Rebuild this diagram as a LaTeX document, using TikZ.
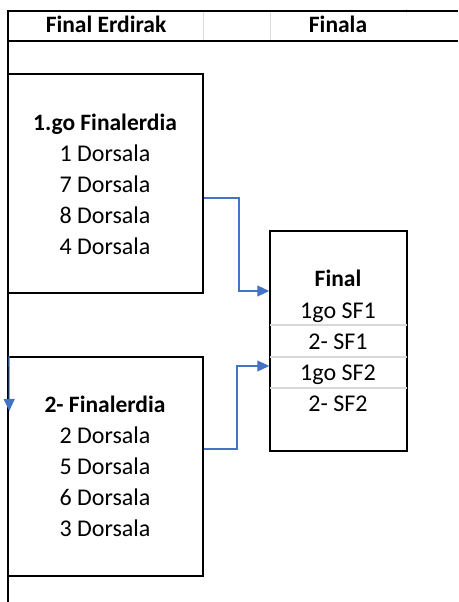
\documentclass[tikz,border=0pt]{standalone}
\usepackage{fontspec}
\setmainfont{Carlito}
\usetikzlibrary{arrows.meta}
\definecolor{arrowblue}{HTML}{4472C4}
\definecolor{gridgray}{HTML}{D9D9D9}
\tikzset{
  txt/.style={inner sep=0pt, text height=14pt, text depth=0pt, font=\fontsize{24}{31}\selectfont},
  hdr/.style={txt, font=\fontsize{23.5}{31}\selectfont\bfseries},
  boxnode/.style={draw=black, line width=1.5pt, inner sep=0pt},
  conn/.style={draw=arrowblue, line width=1.1pt, -{Triangle[length=12pt,width=11pt]}},
  sep/.style={draw=gridgray, line width=1.5pt},
  border/.style={draw=black, line width=2pt}
}
\begin{document}
\begin{tikzpicture}[x=1pt,y=-1pt]
\useasboundingbox (0,0) rectangle (458,602);
% header grid
\draw[sep, line width=1pt] (203,11) -- (203,41);
\draw[sep, line width=1pt] (270,11) -- (270,41);
\draw[sep, line width=1pt] (406,9) -- (406,13);
\draw[border] (7,11) -- (458,11);
\draw[border] (7,41) -- (458,41);
\draw[border] (8,10) -- (8,602);
\node[hdr] (h1) at (106,26) {Final Erdirak};
\node[hdr] (h2) at (338,26) {Finala};
% boxes
\node[boxnode, minimum width=195pt, minimum height=219pt] (b1) at (105.5,183.5) {};
\node[boxnode, minimum width=195pt, minimum height=219pt] (b2) at (105.5,466.5) {};
\node[boxnode, minimum width=137pt, minimum height=220pt] (fb) at (338.5,341) {};
% separators in final box
\draw[sep] ([xshift=1pt]fb.west |- 0,325) -- ([xshift=-1pt]fb.east |- 0,325);
\draw[sep] ([xshift=1pt]fb.west |- 0,357) -- ([xshift=-1pt]fb.east |- 0,357);
\draw[sep] ([xshift=1pt]fb.west |- 0,388) -- ([xshift=-1pt]fb.east |- 0,388);
% texts box 1
\node[hdr] (t1) at (105,123) {1.go Finalerdia};
\node[txt] (t1a) at (105,154) {1 Dorsala};
\node[txt] (t1b) at (105,185) {7 Dorsala};
\node[txt] (t1c) at (105,216) {8 Dorsala};
\node[txt] (t1d) at (105,247) {4 Dorsala};
% texts box 2
\node[hdr] (t2) at (105,405) {2- Finalerdia};
\node[txt] (t2a) at (105,436) {2 Dorsala};
\node[txt] (t2b) at (105,467) {5 Dorsala};
\node[txt] (t2c) at (105,498) {6 Dorsala};
\node[txt] (t2d) at (105,529) {3 Dorsala};
% final texts
\node[hdr] (f0) at (338,279) {Final};
\node[txt] (f1) at (338,311) {1go SF1};
\node[txt] (f2) at (338,342) {2- SF1};
\node[txt] (f3) at (338,373) {1go SF2};
\node[txt] (f4) at (338,404) {2- SF2};
% connectors
\coordinate (a1s) at (b1.east |- 0,198);
\coordinate (a1e) at (fb.west |- 0,291);
\draw[conn] (a1s) -- (239,198) -- (239,291) -- (a1e);
\coordinate (a2s) at (b2.east |- 0,449);
\coordinate (a2e) at (fb.west |- 0,366);
\draw[conn] (a2s) -- (237,449) -- (237,366) -- (a2e);
\coordinate (a3s) at (9,356);
\coordinate (a3e) at (b2.west |- 0,411);
\draw[conn] (a3s) -- ([xshift=2pt]a3e);
\end{tikzpicture}
\end{document}
